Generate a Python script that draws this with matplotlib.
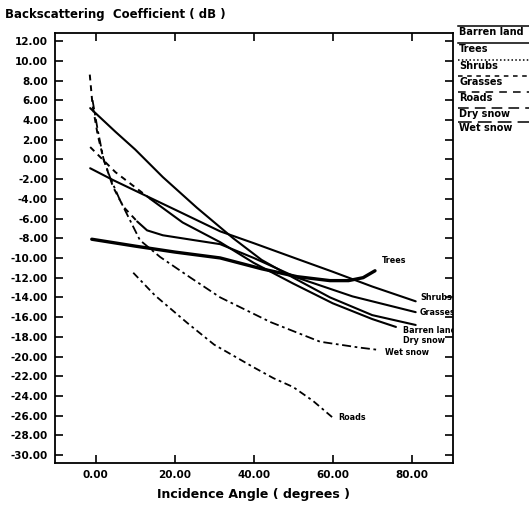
import matplotlib.pyplot as plt
from matplotlib.lines import Line2D

plt.rcParams['font.family'] = 'DejaVu Sans'
plt.rcParams['axes.unicode_minus'] = False

# incidence angle (deg) / backscatter (dB) for each surface
barren_x = [-1.4, 5, 10, 17, 25.6, 34.8, 42, 50, 59.3, 70, 81]
barren_y = [5.2, 2.8, 1.0, -1.8, -4.9, -8.0, -10.2, -12.0, -14.0, -15.8, -16.8]

trees_x = [-1, 10, 20, 31.5, 42, 51, 59.3, 64, 67.7, 70.7]
trees_y = [-8.1, -8.8, -9.4, -10.0, -11.1, -11.9, -12.3, -12.3, -12.0, -11.3]

shrubs_x = [-1.4, 4.4, 13.8, 20.6, 31.5, 40, 51, 60, 70, 81]
shrubs_y = [-0.9, -2.1, -3.9, -5.2, -7.3, -8.5, -10.1, -11.4, -12.9, -14.4]

grasses_x = [-1.5, -0.8, 0.5, 2.0, 4.4, 7, 10.5, 13, 17, 25, 31.5, 40, 51, 65, 81]
grasses_y = [8.6, 5.5, 2.5, 0, -2.8, -4.8, -6.3, -7.2, -7.7, -8.2, -8.6, -10.0, -12.0, -13.9, -15.5]

roads_x = [9.5, 15, 23.2, 30, 40, 45, 50, 55, 60]
roads_y = [-11.5, -13.8, -16.6, -18.8, -21.1, -22.2, -23.1, -24.5, -26.2]

drysnow_x = [-1.4, 5, 13.8, 22, 31.5, 40, 50, 60, 70, 76]
drysnow_y = [1.25, -1.3, -4.0, -6.4, -8.4, -10.5, -12.6, -14.6, -16.2, -17.0]

wetsnow_x = [-0.8, 0.5, 2, 3.6, 6.1, 11.2, 16.3, 24, 31.5, 44.2, 56.8, 66.9, 71]
wetsnow_y = [6.0, 3.0, 0.0, -1.8, -4.1, -8.2, -9.9, -12.0, -14.0, -16.5, -18.5, -19.1, -19.3]

names = ['Barren land', 'Trees', 'Shrubs', 'Grasses', 'Roads', 'Dry snow', 'Wet snow']
legend_styles = ['-', '-', (0, (1, 1.5)), (0, (3, 3)), (0, (5, 4)), (0, (7, 4)), (0, (9, 4))]

fig = plt.figure(figsize=(5.29, 5.11), dpi=100)
ax = fig.add_axes([0.104, 0.094, 0.752, 0.841])

k = dict(color='black', solid_capstyle='round')
ax.plot(barren_x, barren_y, lw=1.5, **k)
ax.plot(trees_x, trees_y, lw=2.4, **k)
ax.plot(shrubs_x, shrubs_y, lw=1.5, **k)
# grasses and dry snow start dashed, then run solid
ax.plot(grasses_x[:7], grasses_y[:7], lw=1.4, ls=(0, (3, 2.5)), color='black')
ax.plot(grasses_x[6:], grasses_y[6:], lw=1.5, **k)
ax.plot(drysnow_x[:3], drysnow_y[:3], lw=1.4, ls=(0, (3, 2.5)), color='black')
ax.plot(drysnow_x[2:], drysnow_y[2:], lw=1.5, **k)
ax.plot(roads_x, roads_y, lw=1.3, ls=(0, (4, 2, 1.5, 2)), color='black')
ax.plot(wetsnow_x, wetsnow_y, lw=1.3, ls=(0, (5, 2, 1.5, 2)), color='black')

lbl = dict(fontsize=5.8, fontweight='bold', clip_on=True)
ax.text(72.4, -10.5, 'Trees', **lbl)
ax.text(82.1, -14.3, 'Shrubs', **lbl)
ax.text(82.1, -15.8, 'Grasses', **lbl)
ax.text(77.8, -17.6, 'Barren land', **lbl)
ax.text(77.8, -18.6, 'Dry snow', **lbl)
ax.text(73.2, -19.8, 'Wet snow', **lbl)
ax.text(61.3, -26.4, 'Roads', **lbl)

ax.set_xlim(-10.3, 90.4)
ax.set_ylim(-30.8, 12.8)
ax.set_xticks([0, 20, 40, 60, 80])
ax.set_yticks(range(-30, 13, 2))
ax.xaxis.set_major_formatter(lambda v, p: '%.2f' % v)
ax.yaxis.set_major_formatter(lambda v, p: '%.2f' % v)
ax.tick_params(direction='in', length=6, width=1.2, top=True, right=True,
               labelsize=7.5, pad=5)
for t in ax.get_xticklabels() + ax.get_yticklabels():
    t.set_fontweight('bold')
for s in ax.spines.values():
    s.set_linewidth(1.3)

ax.set_xlabel('Incidence Angle ( degrees )', fontsize=9, fontweight='bold', labelpad=6)
fig.text(0.01, 0.972, 'Backscattering  Coefficient ( dB )', fontsize=8.5,
         fontweight='bold', va='center')

# key on the right: a line over each name
row_y = [32, 49, 66, 82, 98, 114, 128]
for name, st, ry in zip(names, legend_styles, row_y):
    yl = 1 - (ry - 6) / 511
    fig.add_artist(Line2D([0.866, 1.0], [yl, yl], transform=fig.transFigure,
                          color='black', lw=1.1, ls=st))
    fig.text(0.868, 1 - ry / 511, name, fontsize=7, fontweight='bold', va='center')

fig.savefig('out.png', dpi=100)
